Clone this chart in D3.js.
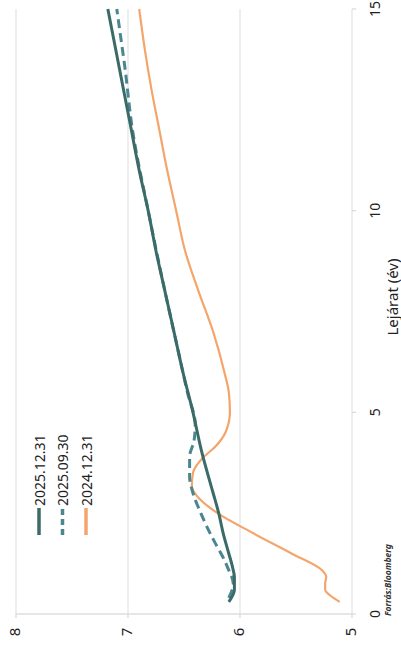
<!DOCTYPE html>
<html><head><meta charset="utf-8">
<script src="https://cdn.jsdelivr.net/npm/d3@7"></script>
<style>html,body{margin:0;padding:0;background:#fff}svg{display:block}</style>
</head><body>
<script>
const seriesNames = ["2025.12.31", "2025.09.30", "2024.12.31"];
const m1 = [0.3,0.6,0.9,1.2,1.5,2,2.5,3,4,5,6,7,8,9,10,11,12,13,14,15];
const v1 = [6.10,6.05,6.05,6.07,6.10,6.15,6.19,6.24,6.34,6.42,6.51,6.59,6.67,6.75,6.82,6.90,6.97,7.04,7.11,7.18];
const m2 = [0.4,0.75,1.15,1.4,1.75,2.5,3.0,3.4,3.9,4.3,4.7,5.5,6.5,8,10,12,13.6,14.4,15];
const v2 = [6.10,6.06,6.11,6.15,6.22,6.35,6.42,6.45,6.45,6.41,6.40,6.47,6.55,6.67,6.82,6.96,7.03,7.07,7.10];
const m3 = [0.3,0.47,0.6,0.75,0.92,1.09,1.5,2.0,2.5,2.85,3.17,3.5,3.85,4.15,4.5,5.0,5.5,6,7,8,9,10,11,12,13,14,15];
const v3 = [5.11,5.20,5.24,5.24,5.23,5.27,5.54,5.88,6.20,6.36,6.43,6.42,6.34,6.22,6.13,6.09,6.10,6.14,6.24,6.37,6.49,6.57,6.65,6.72,6.79,6.85,6.90];
const xTicks = [0,5,10,15];
const yTicks = [5,6,7,8];
const xTitle = "Lejárat (év)";
const source = "Forrás:Bloomberg";

const W = 652, H = 401;
const colors = ["#3b6b68", "#4a8690", "#f4a56c"];
const font = "'Noto Sans', 'Open Sans', sans-serif";

const svg = d3.select("body").append("svg").attr("width", 401).attr("height", 652);
const g = svg.append("g").attr("transform", `translate(0,${W}) rotate(-90)`);

const x = d3.scaleLinear().domain([0,15]).range([38, 643]);
const y = d3.scaleLinear().domain([5,8]).range([352, 16]);

// gridlines
g.append("g").selectAll("line").data(yTicks).join("line")
  .attr("x1", x(0)).attr("x2", x(15))
  .attr("y1", d => y(d)).attr("y2", d => y(d))
  .attr("stroke", "#e8e8e8").attr("stroke-width", 1.5);
// left axis line (m=0)
g.append("line").attr("x1", x(0)).attr("x2", x(0)).attr("y1", y(8)).attr("y2", y(5))
  .attr("stroke", "#dedede").attr("stroke-width", 1.5);
g.append("g").selectAll("line").data(yTicks).join("line")
  .attr("x1", x(0)-4).attr("x2", x(0)).attr("y1", d=>y(d)).attr("y2", d=>y(d))
  .attr("stroke", "#d8d8d8").attr("stroke-width", 1.2);
g.append("g").selectAll("line").data(xTicks).join("line")
  .attr("x1", d=>x(d)).attr("x2", d=>x(d)).attr("y1", y(5)).attr("y2", y(5)+4)
  .attr("stroke", "#d8d8d8").attr("stroke-width", 1.2);

// tick labels
g.append("g").selectAll("text").data(yTicks).join("text")
  .attr("x", 20).attr("y", d => y(d) - 2)
  .attr("text-anchor", "middle").attr("dominant-baseline", "central")
  .attr("font-family", font).attr("font-size", 15).attr("fill", "#222")
  .text(d => d);
g.append("g").selectAll("text").data(xTicks).join("text")
  .attr("x", d => x(d)).attr("y", 380)
  .attr("text-anchor", "middle")
  .attr("font-family", font).attr("font-size", 14).attr("fill", "#222")
  .text(d => d);
g.append("text").attr("x", 355).attr("y", 398).attr("text-anchor", "middle")
  .attr("font-family", font).attr("font-size", 15).attr("fill", "#222").text(xTitle);
g.append("text").attr("x", 36).attr("y", 391)
  .attr("font-family", font).attr("font-size", 8.5).attr("font-style", "italic").attr("font-weight", 700)
  .attr("fill", "#333").text(source);

// series
const line = d3.line().x(d => x(d[0])).y(d => y(d[1])).curve(d3.curveMonotoneX);
const data = [d3.zip(m1, v1), d3.zip(m2, v2), d3.zip(m3, v3)];
const widths = [3, 3, 2.2];
const dashes = [null, "9,5", null];
[2,1,0].forEach(i => {
  g.append("path").datum(data[i]).attr("d", line)
    .attr("fill", "none").attr("stroke", colors[i]).attr("stroke-width", widths[i])
    .attr("stroke-dasharray", dashes[i]).attr("stroke-linecap", "butt").attr("stroke-linejoin", "round");
});

// legend
const leg = g.append("g");
seriesNames.forEach((n, i) => {
  const cy = 39 + i * 23.5;
  leg.append("line").attr("x1", 117).attr("x2", 144).attr("y1", cy).attr("y2", cy)
    .attr("stroke", colors[i]).attr("stroke-width", 3.5).attr("stroke-dasharray", dashes[i] ? "6,4" : null);
  leg.append("text").attr("x", 146).attr("y", cy).attr("dominant-baseline", "central")
    .attr("font-family", font).attr("font-size", 14).attr("fill", "#222").text(n);
});
</script>
</body></html>
